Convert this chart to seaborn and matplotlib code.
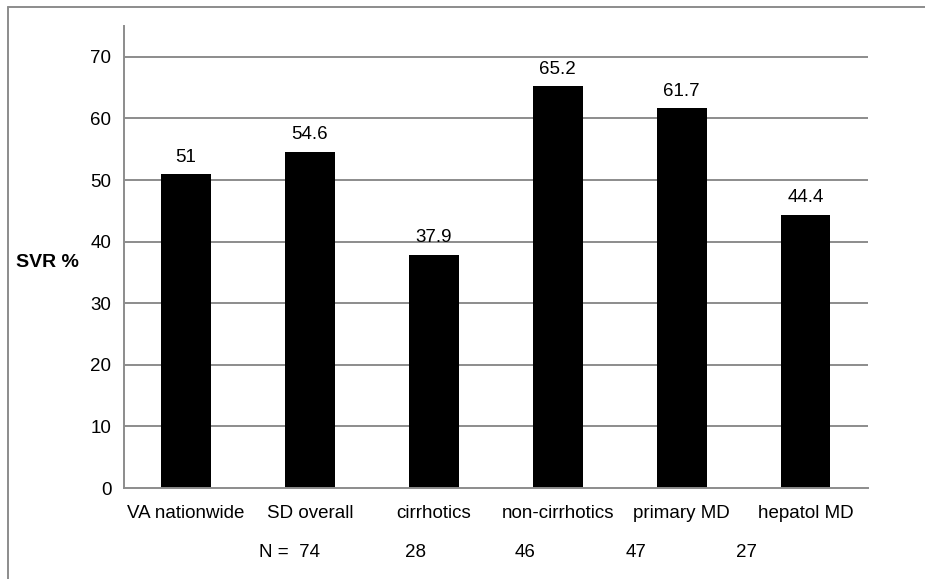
import matplotlib
matplotlib.use("Agg")
import matplotlib.pyplot as plt
from matplotlib.lines import Line2D
import pandas as pd
import seaborn as sns

groups = ['VA nationwide', 'SD overall', 'cirrhotics', 'non-cirrhotics', 'primary MD', 'hepatol MD']
svr = [51, 54.6, 37.9, 65.2, 61.7, 44.4]
value_labels = ['51', '54.6', '37.9', '65.2', '61.7', '44.4']
n_labels = ['N =  74', '28', '46', '47', '27']

sns.set_style('white')
plt.rcParams['font.family'] = ['Liberation Sans', 'DejaVu Sans']
plt.rcParams['text.color'] = 'black'
plt.rcParams['xtick.color'] = 'black'
plt.rcParams['ytick.color'] = 'black'
plt.rcParams['axes.labelcolor'] = 'black'

fs = 13.5
df = pd.DataFrame({'group': groups, 'svr': svr})

fig = plt.figure(figsize=(9.25, 5.79), dpi=100)
ax = fig.add_axes([0.134, 0.157, 0.804, 0.798])

grey = '#8c8c8c'
ax.set_axisbelow(True)
for v in range(10, 80, 10):
    ax.axhline(v, color=grey, lw=1.4, zorder=0)

sns.barplot(data=df, x='group', y='svr', color='black', width=0.4,
            saturation=1, edgecolor='black', linewidth=0, ax=ax, zorder=2)
ax.bar_label(ax.containers[0], labels=value_labels, padding=6, fontsize=fs)

ax.set_xlim(-0.5, len(groups) - 0.5)
ax.set_ylim(0, 75)
ax.set_yticks(range(0, 80, 10))
ax.tick_params(axis='y', labelsize=fs, length=6, color=grey, width=1.4, pad=3,
               labelcolor='black')
ax.tick_params(axis='x', which='major', labelsize=fs, length=0, pad=12,
               labelcolor='black')
ax.set_xticks([i - 0.5 for i in range(len(groups) + 1)], minor=True)
ax.tick_params(axis='x', which='minor', length=5, color=grey, width=1.4)

for side in ['top', 'right']:
    ax.spines[side].set_visible(False)
for side in ['left', 'bottom']:
    ax.spines[side].set_color(grey)
    ax.spines[side].set_linewidth(1.4)

ax.set_xlabel('')
ax.set_ylabel('SVR %', rotation=0, fontsize=14, fontweight='bold')
ax.yaxis.set_label_coords(-0.103, 0.47)

# N counts row under the category labels
for i, lab in enumerate(n_labels):
    xpos = 0.96 + 0.89 * i
    ha = 'right' if i == 0 else 'center'
    if i == 0:
        xpos += 0.12
    ax.text(xpos, -0.14, lab, transform=ax.get_xaxis_transform(),
            ha=ha, va='center', fontsize=fs)

# outer frame lines (top and left)
fig.add_artist(Line2D([8 / 925, 1], [1 - 7 / 579, 1 - 7 / 579], color=grey, lw=1.4))
fig.add_artist(Line2D([8 / 925, 8 / 925], [0, 1 - 7 / 579], color=grey, lw=1.4))

fig.savefig('out.png', dpi=100)
